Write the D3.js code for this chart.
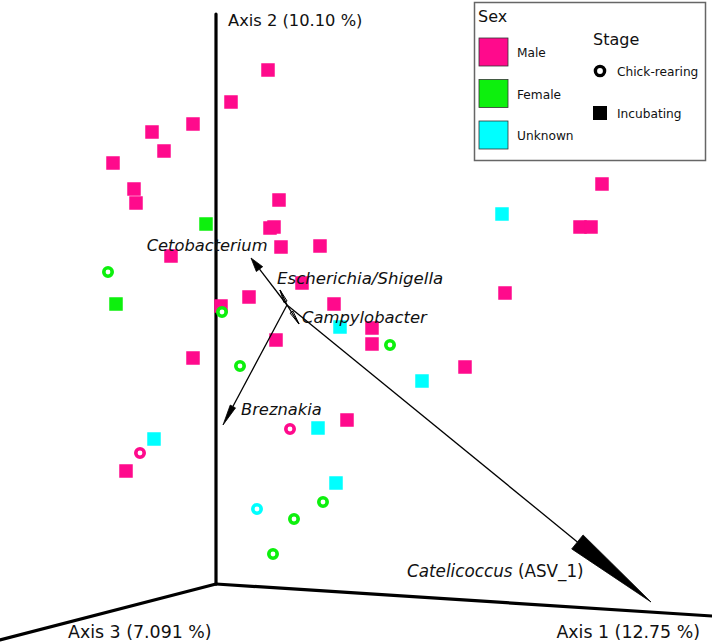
<!DOCTYPE html>
<html>
<head>
<meta charset="utf-8">
<script src="https://cdn.jsdelivr.net/npm/d3@7"></script>
<style>
  body { margin: 0; background: #fff; }
  text { font-family: "DejaVu Sans", Verdana, sans-serif; fill: #111; }
</style>
</head>
<body>
<div class="canvas"></div>
<script>
// ---- DATA (projected PCoA coordinates) --- //
const sexes = ['Male', 'Female', 'Unknown'];
const stages = ['Chick-rearing', 'Incubating'];

const axisLabels = ['Axis 1 (12.75 %)', 'Axis 2 (10.10 %)', 'Axis 3 (7.091 %)'];
const axisEnds = [[4.96, -0.32], [0, 5.70], [-2.16, -0.56]];

const maleIncubating = [
    [0.52, 5.14], [0.15, 4.82], [-0.23, 4.60], [-0.64, 4.52], [-0.52, 4.33],
    [-1.03, 4.21], [-0.82, 3.95], [-0.80, 3.81], [0.63, 3.84], [0.54, 3.56],
    [0.58, 3.57], [0.65, 3.37], [1.04, 3.38], [-0.45, 3.28], [0.86, 3.01],
    [0.33, 2.87], [0.05, 2.78], [1.18, 2.80], [1.56, 2.56], [1.56, 2.40],
    [0.60, 2.44], [-0.23, 2.26], [1.31, 1.64], [-0.90, 1.13], [3.86, 4.00],
    [3.64, 3.57], [3.75, 3.57], [2.89, 2.91], [2.49, 2.17]
];
const femaleIncubating = [[-0.10, 3.60], [-1.00, 2.80]];
const unknownIncubating = [[1.24, 2.57], [2.06, 2.03], [1.02, 1.56], [-0.62, 1.45], [1.20, 1.01], [2.86, 3.70]];

const maleChick = [[0.74, 1.55], [-0.76, 1.31]];
const femaleChick = [[-1.08, 3.12], [0.06, 2.72], [0.24, 2.18], [1.74, 2.39], [1.07, 0.82], [0.78, 0.65], [0.57, 0.30]];
const unknownChick = [[0.41, 0.75]];

// biplot arrows (taxa)
const taxa = ['Cetobacterium', 'Escherichia/Shigella', 'Campylobacter', 'Breznakia', 'Catelicoccus'];
const arrowOrigin = [0.71, 2.79];
const arrowTips = [[0.35, 3.26], [0.64, 2.94], [0.83, 2.60], [0.07, 1.59], [4.35, -0.18]];


// ---- STYLE / LAYOUT --- //
const sexColour = d3.scaleOrdinal().domain(sexes).range(['#ff0a8c', '#0df00d', '#00ffff']);

const headStyle = {
    'Cetobacterium': { len: 14, w: 8, fill: true },
    'Escherichia/Shigella': { len: 13, w: 3.5, fill: false },
    'Campylobacter': { len: 14, w: 3.5, fill: false },
    'Breznakia': { len: 21, w: 6, fill: true },
    'Catelicoccus': { len: 95, w: 18, fill: true }
};
const taxonLabel = {
    'Cetobacterium': { dx: 16.5, dy: -7.5, size: 16.3, anchor: 'end' },
    'Escherichia/Shigella': { dx: -3, dy: -6, size: 16.6, anchor: 'start' },
    'Campylobacter': { dx: 3, dy: -1.5, size: 16.4, anchor: 'start' },
    'Breznakia': { dx: 18, dy: -10, size: 16.3, anchor: 'start' },
    'Catelicoccus': { dx: -244, dy: -25, size: 16.8, anchor: 'start', suffix: ' (ASV_1)' }
};
const axisLabelPos = [
    { dx: -12, dy: 22, size: 17.4, anchor: 'end' },
    { dx: 12, dy: 12, size: 16.3, anchor: 'start' },
    { dx: 68, dy: -2, size: 17.4, anchor: 'start' }
];


// ---- SVG SETUP --- //
const width = 712;
const height = 644;

const svg = d3.select('.canvas')
    .append('svg')
    .attr('width', width)
    .attr('height', height);

const x = d3.scaleLinear().domain([-2.16, 4.96]).range([0, width]);
const y = d3.scaleLinear().domain([0, 5.84]).range([584, 0]);


// ---- AXES --- //
const axisGroup = svg.append('g').attr('class', 'axes');

axisGroup.selectAll('line')
    .data(axisEnds)
    .enter().append('line')
    .attr('x1', x(0)).attr('y1', y(0))
    .attr('x2', d => x(d[0])).attr('y2', d => y(d[1]))
    .attr('stroke', '#000')
    .attr('stroke-width', 3.2)
    .attr('stroke-linecap', 'round');

axisGroup.selectAll('text')
    .data(axisLabels)
    .enter().append('text')
    .attr('x', (d, i) => x(axisEnds[i][0]) + axisLabelPos[i].dx)
    .attr('y', (d, i) => y(axisEnds[i][1]) + axisLabelPos[i].dy)
    .attr('text-anchor', (d, i) => axisLabelPos[i].anchor)
    .style('font-size', (d, i) => axisLabelPos[i].size + 'px')
    .text(d => d);


// ---- SAMPLES --- //
const squares = [
    ...maleIncubating.map(p => ({ p, sex: 'Male' })),
    ...femaleIncubating.map(p => ({ p, sex: 'Female' })),
    ...unknownIncubating.map(p => ({ p, sex: 'Unknown' }))
];
const rings = [
    ...maleChick.map(p => ({ p, sex: 'Male' })),
    ...femaleChick.map(p => ({ p, sex: 'Female' })),
    ...unknownChick.map(p => ({ p, sex: 'Unknown' }))
];

const sq = 13.5;
svg.append('g').selectAll('rect')
    .data(squares)
    .enter().append('rect')
    .attr('x', d => x(d.p[0]) - sq / 2)
    .attr('y', d => y(d.p[1]) - sq / 2)
    .attr('width', sq)
    .attr('height', sq)
    .attr('fill', d => sexColour(d.sex));

svg.append('g').selectAll('circle')
    .data(rings)
    .enter().append('circle')
    .attr('cx', d => x(d.p[0]))
    .attr('cy', d => y(d.p[1]))
    .attr('r', 4.2)
    .attr('fill', '#fff')
    .attr('stroke', d => sexColour(d.sex))
    .attr('stroke-width', 3.6);


// ---- BIPLOT ARROWS --- //
const ox = x(arrowOrigin[0]);
const oy = y(arrowOrigin[1]);
const arrowGroup = svg.append('g').attr('class', 'arrows');

taxa.forEach((name, i) => {
    const tx = x(arrowTips[i][0]);
    const ty = y(arrowTips[i][1]);
    const L = Math.hypot(tx - ox, ty - oy);
    const ux = (tx - ox) / L, uy = (ty - oy) / L;
    const hs = headStyle[name];
    const bx = tx - ux * hs.len, by = ty - uy * hs.len;
    const nx = -uy * hs.w / 2, ny = ux * hs.w / 2;

    arrowGroup.append('line')
        .attr('x1', ox).attr('y1', oy)
        .attr('x2', hs.fill ? bx : tx).attr('y2', hs.fill ? by : ty)
        .attr('stroke', '#000')
        .attr('stroke-width', 1.3);

    arrowGroup.append('path')
        .attr('d', `M${tx},${ty}L${bx + nx},${by + ny}L${bx - nx},${by - ny}Z`)
        .attr('fill', hs.fill ? '#000' : 'none')
        .attr('stroke', '#000')
        .attr('stroke-width', hs.fill ? 0.8 : 1)
        .attr('stroke-linejoin', 'round');

    const lab = taxonLabel[name];
    const t = arrowGroup.append('text')
        .attr('x', tx + lab.dx)
        .attr('y', ty + lab.dy)
        .attr('text-anchor', lab.anchor)
        .style('font-size', lab.size + 'px');
    t.append('tspan').style('font-style', 'italic').text(name);
    if (lab.suffix) t.append('tspan').text(lab.suffix);
});


// ---- LEGEND --- //
const legend = svg.append('g').attr('class', 'legend');

legend.append('rect')
    .attr('x', 474.5).attr('y', 2.5)
    .attr('width', 231).attr('height', 158)
    .attr('fill', '#fff')
    .attr('stroke', '#666')
    .attr('stroke-width', 1.5);

legend.append('text')
    .attr('x', 478).attr('y', 22)
    .style('font-size', '16px')
    .text('Sex');

const sexItems = legend.selectAll('.sex-item')
    .data(sexes)
    .enter().append('g')
    .attr('class', 'sex-item')
    .attr('transform', (d, i) => `translate(479, ${38 + i * 41.5})`);

sexItems.append('rect')
    .attr('width', 29).attr('height', 28)
    .attr('fill', d => sexColour(d))
    .attr('stroke', '#333')
    .attr('stroke-width', 0.8);

sexItems.append('text')
    .attr('x', 38).attr('y', 19)
    .style('font-size', '12.2px')
    .text(d => d);

legend.append('text')
    .attr('x', 593).attr('y', 45)
    .style('font-size', '16px')
    .text('Stage');

const stageItems = legend.selectAll('.stage-item')
    .data(stages)
    .enter().append('g')
    .attr('class', 'stage-item')
    .attr('transform', (d, i) => `translate(600, ${71 + i * 42})`);

stageItems.filter(d => d === 'Chick-rearing').append('circle')
    .attr('r', 4.6)
    .attr('fill', '#fff')
    .attr('stroke', '#000')
    .attr('stroke-width', 3.4);

stageItems.filter(d => d === 'Incubating').append('rect')
    .attr('x', -7).attr('y', -7)
    .attr('width', 14).attr('height', 14)
    .attr('fill', '#000');

stageItems.append('text')
    .attr('x', 17).attr('y', 4.5)
    .style('font-size', '12.2px')
    .text(d => d);
</script>
</body>
</html>
